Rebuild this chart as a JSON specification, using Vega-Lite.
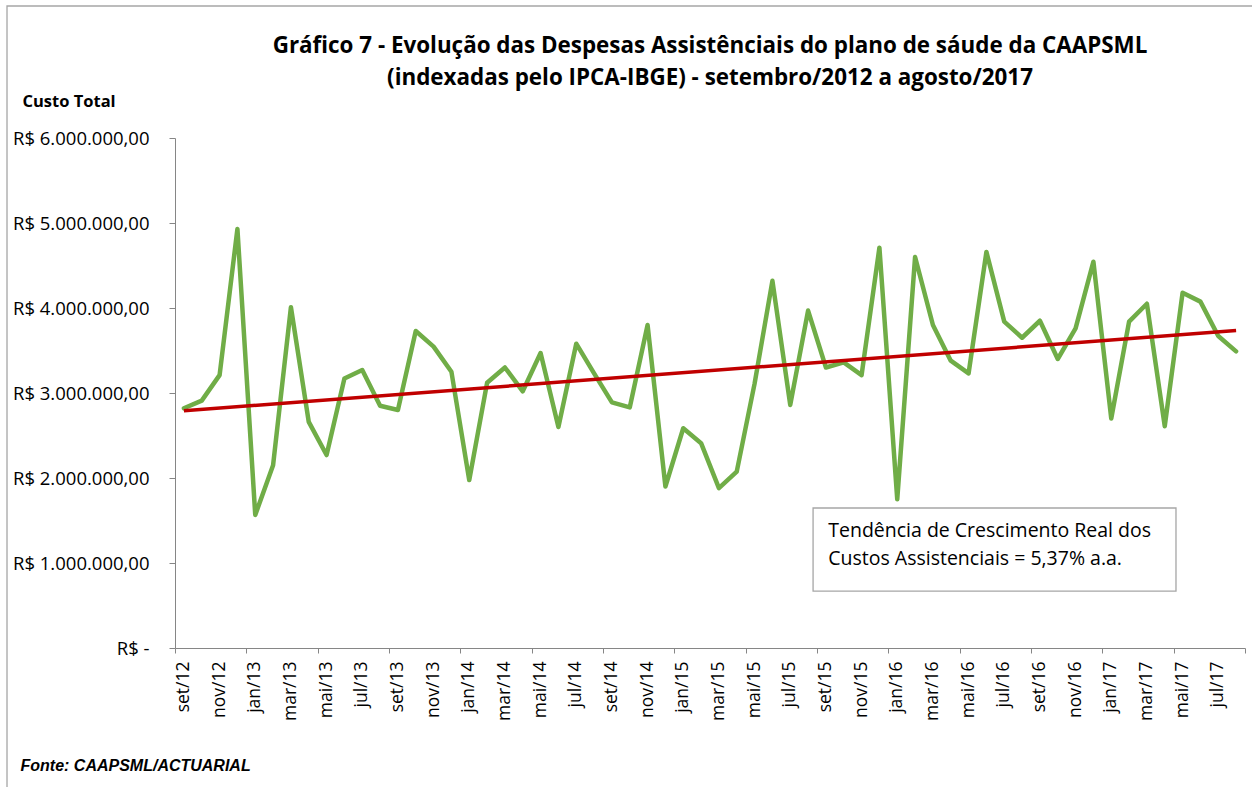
{
  "$schema": "https://vega.github.io/schema/vega-lite/v6.json",
  "width": 1070,
  "height": 510,
  "autosize": {"type": "none"},
  "padding": {"left": 175, "top": 138, "right": 7, "bottom": 139},
  "background": "white",
  "config": {
    "view": {"stroke": null},
    "font": "Open Sans"
  },
  "title": {
    "text": ["Gráfico 7 - Evolução das Despesas Assistênciais do plano de sáude da  CAAPSML", "(indexadas pelo IPCA-IBGE) - setembro/2012 a agosto/2017"],
    "anchor": "middle",
    "frame": "group",
    "font": "Open Sans",
    "fontSize": 22.4,
    "fontWeight": "bold",
    "color": "#000000",
    "lineHeight": 31.5,
    "baseline": "bottom",
    "offset": -107
  },
  "datasets": {
    "mensal": [
      {"mes": "set/12", "custo": 2820000, "tendencia": 2790000},
      {"mes": "out/12", "custo": 2910000},
      {"mes": "nov/12", "custo": 3210000},
      {"mes": "dez/12", "custo": 4930000},
      {"mes": "jan/13", "custo": 1565000},
      {"mes": "fev/13", "custo": 2150000},
      {"mes": "mar/13", "custo": 4010000},
      {"mes": "abr/13", "custo": 2660000},
      {"mes": "mai/13", "custo": 2270000},
      {"mes": "jun/13", "custo": 3170000},
      {"mes": "jul/13", "custo": 3270000},
      {"mes": "ago/13", "custo": 2850000},
      {"mes": "set/13", "custo": 2800000},
      {"mes": "out/13", "custo": 3730000},
      {"mes": "nov/13", "custo": 3545000},
      {"mes": "dez/13", "custo": 3250000},
      {"mes": "jan/14", "custo": 1976000},
      {"mes": "fev/14", "custo": 3120000},
      {"mes": "mar/14", "custo": 3300000},
      {"mes": "abr/14", "custo": 3020000},
      {"mes": "mai/14", "custo": 3470000},
      {"mes": "jun/14", "custo": 2600000},
      {"mes": "jul/14", "custo": 3580000},
      {"mes": "ago/14", "custo": 3230000},
      {"mes": "set/14", "custo": 2890000},
      {"mes": "out/14", "custo": 2830000},
      {"mes": "nov/14", "custo": 3800000},
      {"mes": "dez/14", "custo": 1900000},
      {"mes": "jan/15", "custo": 2585000},
      {"mes": "fev/15", "custo": 2410000},
      {"mes": "mar/15", "custo": 1880000},
      {"mes": "abr/15", "custo": 2075000},
      {"mes": "mai/15", "custo": 3110000},
      {"mes": "jun/15", "custo": 4320000},
      {"mes": "jul/15", "custo": 2860000},
      {"mes": "ago/15", "custo": 3970000},
      {"mes": "set/15", "custo": 3300000},
      {"mes": "out/15", "custo": 3360000},
      {"mes": "nov/15", "custo": 3210000},
      {"mes": "dez/15", "custo": 4710000},
      {"mes": "jan/16", "custo": 1750000},
      {"mes": "fev/16", "custo": 4600000},
      {"mes": "mar/16", "custo": 3800000},
      {"mes": "abr/16", "custo": 3380000},
      {"mes": "mai/16", "custo": 3230000},
      {"mes": "jun/16", "custo": 4660000},
      {"mes": "jul/16", "custo": 3840000},
      {"mes": "ago/16", "custo": 3650000},
      {"mes": "set/16", "custo": 3850000},
      {"mes": "out/16", "custo": 3400000},
      {"mes": "nov/16", "custo": 3760000},
      {"mes": "dez/16", "custo": 4545000},
      {"mes": "jan/17", "custo": 2700000},
      {"mes": "fev/17", "custo": 3840000},
      {"mes": "mar/17", "custo": 4050000},
      {"mes": "abr/17", "custo": 2610000},
      {"mes": "mai/17", "custo": 4180000},
      {"mes": "jun/17", "custo": 4075000},
      {"mes": "jul/17", "custo": 3670000},
      {"mes": "ago/17", "custo": 3490000, "tendencia": 3735000}
    ],
    "caixa": [
      {"x0": 35.78, "x1": 56.13, "y0": 670000, "y1": 1647000, "xt": 36.63, "linha1": "Tendência de Crescimento Real dos", "y_l1": 1380000, "linha2": "Custos Assistenciais = 5,37% a.a.", "y_l2": 1050000}
    ],
    "moldura": [
      {"x0": -9.42, "x1": 62, "y0": -2500000, "y1": 7553000}
    ]
  },
  "encoding": {
    "y": {
      "type": "quantitative",
      "scale": {"domain": [0, 6000000], "nice": false, "zero": true},
      "axis": {
        "values": [0, 1000000, 2000000, 3000000, 4000000, 5000000, 6000000],
        "labelExpr": "datum.value == 0 ? 'R$ -' : 'R$ ' + (datum.value / 1000000) + '.000.000,00'",
        "labelFont": "Open Sans",
        "labelFontSize": 18.5,
        "labelColor": "#000000",
        "labelPadding": 20,
        "tickSize": 6,
        "tickColor": "#868686",
        "domainColor": "#868686",
        "grid": false,
        "title": "Custo Total",
        "titleAngle": 0,
        "titleAlign": "left",
        "titleBaseline": "middle",
        "titleX": -153,
        "titleY": -37,
        "titleFont": "Open Sans",
        "titleFontSize": 16.5,
        "titleFontWeight": "bold",
        "titleColor": "#000000"
      }
    }
  },
  "layer": [
    {
      "data": {"name": "mensal"},
      "layer": [
        {
          "mark": {"type": "line", "color": "#70AD47", "strokeWidth": 4.5, "strokeJoin": "round", "strokeCap": "round"},
          "encoding": {
            "x": {
              "field": "mes",
              "type": "ordinal",
              "sort": null,
              "bandPosition": 0.5,
              "scale": {"type": "band", "paddingInner": 0, "paddingOuter": 0},
              "axis": {
                "values": ["set/12","nov/12","jan/13","mar/13","mai/13","jul/13","set/13","nov/13","jan/14","mar/14","mai/14","jul/14","set/14","nov/14","jan/15","mar/15","mai/15","jul/15","set/15","nov/15","jan/16","mar/16","mai/16","jul/16","set/16","nov/16","jan/17","mar/17","mai/17","jul/17"],
                "labelAngle": 270,
                "labelAlign": "right",
                "labelBaseline": "middle",
                "labelFont": "Open Sans",
                "labelFontSize": 17.5,
                "labelColor": "#000000",
                "labelPadding": 13,
                "ticks": false,
                "domain": false,
                "grid": false,
                "title": null,
                "orient": "bottom"
              }
            },
            "y": {"field": "custo"}
          }
        },
        {
          "transform": [{"filter": "datum.tendencia != null"}],
          "mark": {"type": "line", "color": "#C00000", "strokeWidth": 3.5},
          "encoding": {
            "x": {"field": "mes", "type": "ordinal", "sort": null, "bandPosition": 0.5},
            "y": {"field": "tendencia"}
          }
        }
      ]
    },
    {
      "layer": [
        {
          "data": {"name": "moldura"},
          "mark": {"type": "rect", "fill": null, "fillOpacity": 0, "stroke": "#A6A6A6", "strokeWidth": 1.3},
          "encoding": {
            "x": {"field": "x0", "type": "quantitative"},
            "x2": {"field": "x1"},
            "y": {"field": "y0"},
            "y2": {"field": "y1"}
          }
        },
        {
          "data": {"name": "caixa"},
          "mark": {"type": "rect", "fill": "white", "stroke": "#A6A6A6", "strokeWidth": 1.3},
          "encoding": {
            "x": {
              "field": "x0",
              "type": "quantitative",
              "scale": {"domain": [0, 60], "nice": false, "zero": false},
              "axis": {
                "values": [0,2,4,6,8,10,12,14,16,18,20,22,24,26,28,30,32,34,36,38,40,42,44,46,48,50,52,54,56,58,60],
                "labels": false,
                "ticks": true,
                "tickSize": 5,
                "tickColor": "#868686",
                "domainColor": "#868686",
                "grid": false,
                "orient": "bottom",
                "title": "Fonte: CAAPSML/ACTUARIAL",
                "titleFont": "Liberation Sans",
                "titleFontSize": 16,
                "titleFontWeight": "bold",
                "titleFontStyle": "italic",
                "titleColor": "#000000",
                "titleAlign": "left",
                "titleBaseline": "middle",
                "titleAnchor": "start",
                "titleX": -155,
                "titleY": 117
              }
            },
            "x2": {"field": "x1"},
            "y": {"field": "y0"},
            "y2": {"field": "y1"}
          }
        },
        {
          "data": {"name": "caixa"},
          "mark": {"type": "text", "align": "left", "baseline": "middle", "font": "Open Sans", "fontSize": 19.5, "color": "#000000"},
          "encoding": {
            "x": {"field": "xt", "type": "quantitative"},
            "y": {"field": "y_l1"},
            "text": {"field": "linha1"}
          }
        },
        {
          "data": {"name": "caixa"},
          "mark": {"type": "text", "align": "left", "baseline": "middle", "font": "Open Sans", "fontSize": 19.5, "color": "#000000"},
          "encoding": {
            "x": {"field": "xt", "type": "quantitative"},
            "y": {"field": "y_l2"},
            "text": {"field": "linha2"}
          }
        }
      ]
    }
  ],
  "resolve": {"scale": {"x": "independent"}, "axis": {"x": "independent"}}
}
